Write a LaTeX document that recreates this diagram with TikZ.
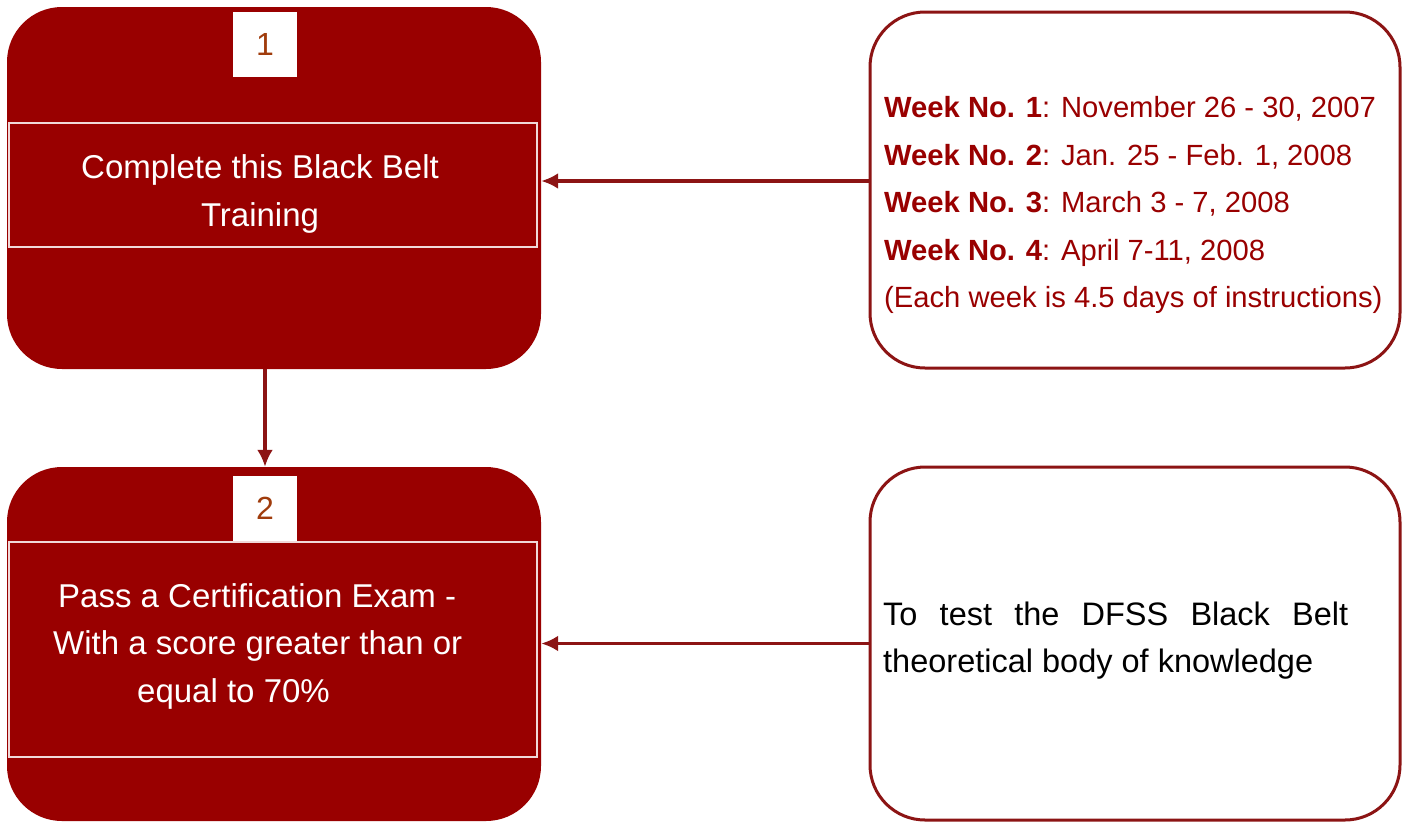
\documentclass[tikz,border=0pt]{standalone}
\usepackage{fontspec}
\setmainfont{Liberation Sans}
\usepackage{tikz}
\usetikzlibrary{
	arrows.meta,									% 箭头样式
	positioning,									% 节点的高级摆放
}
\definecolor{beltred}{RGB}{153,0,0}
\definecolor{edgered}{RGB}{140,20,20}
\definecolor{numbrown}{RGB}{160,60,12}

\begin{document}
\begin{tikzpicture}[x=1pt,y=-1pt,
		stepbox/.style={rectangle,rounded corners=55pt,fill=beltred,minimum width=534pt,inner sep=0pt},
		band/.style={rectangle,draw=white!85!beltred,line width=1.5pt,fill=beltred,minimum width=528pt,inner sep=0pt},
		numbox/.style={rectangle,fill=white,minimum width=64pt,minimum height=65pt,inner sep=0pt,text=numbrown,font=\fontsize{32}{38}\selectfont},
		infobox/.style={rectangle,rounded corners=55pt,draw=edgered,line width=3pt,fill=white,minimum width=530pt,inner sep=0pt},
		whitetext/.style={text=white,inner sep=0pt,font=\fontsize{33}{47.5}\selectfont},
		linkarrow/.style={draw=edgered,line width=3.5pt,-{Latex[length=17pt,width=16pt]}},
	]
		\useasboundingbox (0,0) rectangle (1409,823);
		% 步骤 1
		\node[stepbox,minimum height=362pt] (step1) at (274,188) {};
		\node[band,minimum height=124pt] (band1) at (273,185) {};
		\node[numbox] (num1) at (265,44) {1};
		\node[whitetext,align=center] (task1) at (260,194) {Complete this Black Belt\\Training};
		% 步骤 2
		\node[stepbox,minimum height=354pt] (step2) at (274,644) {};
		\node[band,minimum height=215pt] (band2) at (273,649.5) {};
		\node[numbox] (num2) at (265,508) {2};
		\node[whitetext,align=left,anchor=west] (task2) at (53,646)
			{\hspace*{5pt}Pass a Certification Exam -\\With a score greater than or\\\hspace*{84pt}equal to 70\%};
		% 右侧说明
		\node[infobox,minimum height=356pt] (info1) at (1135,190) {};
		\node[anchor=west,align=left,inner sep=0pt,text=beltred,font=\fontsize{29.2}{47.5}\selectfont] (weeks) at (884,205)
			{\textbf{Week No. 1}: November 26 - 30, 2007\\
			 \textbf{Week No. 2}: Jan. 25 - Feb. 1, 2008\\
			 \textbf{Week No. 3}: March 3 - 7, 2008\\
			 \textbf{Week No. 4}: April 7-11, 2008\\
			 (Each week is 4.5 days of instructions)};
		\node[infobox,minimum height=353pt] (info2) at (1135,643.5) {};
		\node[anchor=west,inner sep=0pt,text width=465pt,align=justify,font=\fontsize{32.5}{47}\selectfont] (purpose) at (883,641)
			{To test the DFSS Black Belt \mbox{theoretical} body of knowledge};
		% 连线
		\draw[linkarrow] ([yshift=9pt]info1.west) -- ([yshift=9pt]info1.west -| step1.east);
		\draw[linkarrow] (step1.south -| num1) -- (step2.north -| num1);
		\draw[linkarrow] (info2.west) -- (info2.west -| step2.east);
	\end{tikzpicture}
\end{document}
